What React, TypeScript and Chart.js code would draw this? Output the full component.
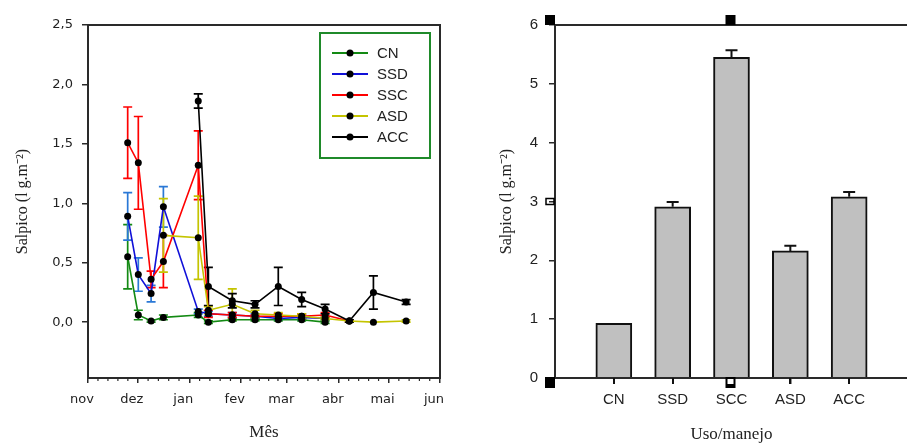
import React, { useEffect, useRef } from 'react';
import { Chart, registerables } from 'chart.js';

Chart.register(...registerables);

// ---------- Left chart data (days since 1 Nov) ----------
const monthLabels = ['nov', 'dez', 'jan', 'fev', 'mar', 'abr', 'mai', 'jun'];
const monthStartDays = [0, 30, 61, 92, 120, 151, 181, 212];
const sampleDays = [23.9, 30.3, 38, 45.4, 66.4, 72.5, 86.9, 100.6, 114.6, 128.7, 142.8, 157.4, 171.9, 191.6];

const cnValues = [0.55, 0.06, 0.01, 0.04, 0.06, 0.0, 0.02, 0.02, 0.02, 0.02, 0.0];
const cnErrors = [0.27, 0.04, 0.01, 0.02, 0.02, 0.01, 0.01, 0.01, 0.01, 0.01, 0.01];
const ssdValues = [0.89, 0.4, 0.24, 0.97, 0.09, 0.07, 0.06, 0.05, 0.03, 0.04, 0.03];
const ssdErrors = [0.2, 0.14, 0.07, 0.17, 0.02, 0.02, 0.02, 0.02, 0.01, 0.02, 0.01];
const sscValues = [1.51, 1.34, 0.36, 0.51, 1.32, 0.07, 0.06, 0.05, 0.05, 0.05, 0.06, 0.01];
const sscErrors = [0.3, 0.39, 0.07, 0.22, 0.29, 0.03, 0.02, 0.01, 0.02, 0.02, 0.02, 0.01];
const asdStart = 3;
const asdValues = [0.73, 0.71, 0.1, 0.15, 0.07, 0.06, 0.05, 0.03, 0.01, 0.0, 0.01];
const asdErrors = [0.31, 0.35, 0.03, 0.13, 0.03, 0.02, 0.02, 0.01, 0.01, 0.0, 0.01];
const accStart = 4;
const accValues = [1.86, 0.3, 0.18, 0.15, 0.3, 0.19, 0.11, 0.01, 0.25, 0.17];
const accErrors = [0.06, 0.16, 0.06, 0.03, 0.16, 0.06, 0.04, 0.01, 0.14, 0.02];

const leftYTicks = [0, 0.5, 1, 1.5, 2, 2.5];

// ---------- Right chart data ----------
const categories = ['CN', 'SSD', 'SCC', 'ASD', 'ACC'];
const barValues = [0.93, 2.91, 5.45, 2.16, 3.08];
const barErrors = [0, 0.08, 0.12, 0.09, 0.08];
const rightYTicks = [0, 1, 2, 3, 4, 5, 6];

const AXIS = '#2a2a2a';
const yTitle = 'Salpico (l g.m\u207B\u00B2)';

function pts(values: number[], start: number) {
  return values.map((v, i) => ({ x: sampleDays[start + i], y: v }));
}

const errorBarPlugin = {
  id: 'errorBars',
  beforeDatasetsDraw(chart: any) {
    const { ctx } = chart;
    const x = chart.scales.x;
    const y = chart.scales.y;
    chart.data.datasets.forEach((ds: any) => {
      if (!ds.errors) return;
      ctx.save();
      ctx.strokeStyle = ds.errorColor;
      ctx.lineWidth = 1.7;
      ds.data.forEach((p: any, i: number) => {
        const e = ds.errors[i];
        if (!e) return;
        const px = x.getPixelForValue(p.x);
        const top = y.getPixelForValue(p.y + e);
        const bot = y.getPixelForValue(p.y - e);
        ctx.beginPath();
        ctx.moveTo(px, top);
        ctx.lineTo(px, bot);
        ctx.moveTo(px - 4.5, top);
        ctx.lineTo(px + 4.5, top);
        ctx.moveTo(px - 4.5, bot);
        ctx.lineTo(px + 4.5, bot);
        ctx.stroke();
      });
      ctx.restore();
    });
  },
};

const leftDecorPlugin = {
  id: 'leftDecor',
  afterDraw(chart: any) {
    const { ctx, chartArea } = chart;
    const x = chart.scales.x;
    ctx.save();
    // frame
    ctx.strokeStyle = AXIS;
    ctx.lineWidth = 2;
    ctx.strokeRect(chartArea.left, chartArea.top, chartArea.right - chartArea.left, chartArea.bottom - chartArea.top);
    // minor ticks
    ctx.lineWidth = 1.2;
    for (let m = 0; m < monthStartDays.length - 1; m++) {
      const a = monthStartDays[m];
      const b = monthStartDays[m + 1];
      for (let k = 1; k < 5; k++) {
        const px = x.getPixelForValue(a + ((b - a) * k) / 5);
        ctx.beginPath();
        ctx.moveTo(px, chartArea.bottom);
        ctx.lineTo(px, chartArea.bottom + 3);
        ctx.stroke();
      }
    }
    // legend box
    const bx = chartArea.right - 120;
    const by = chartArea.top + 8;
    ctx.strokeStyle = '#1f8a2a';
    ctx.lineWidth = 2;
    ctx.strokeRect(bx, by, 110, 125);
    ctx.font = '15px "Liberation Sans", Arial, sans-serif';
    ctx.textBaseline = 'middle';
    ctx.textAlign = 'left';
    chart.data.datasets.forEach((ds: any, i: number) => {
      const ly = by + 20 + i * 21;
      ctx.strokeStyle = ds.borderColor;
      ctx.lineWidth = 1.8;
      ctx.beginPath();
      ctx.moveTo(bx + 12, ly);
      ctx.lineTo(bx + 48, ly);
      ctx.stroke();
      ctx.fillStyle = '#000';
      ctx.beginPath();
      ctx.arc(bx + 30, ly, 3.5, 0, Math.PI * 2);
      ctx.fill();
      ctx.fillStyle = '#222';
      ctx.fillText(ds.label, bx + 57, ly + 1);
    });
    ctx.restore();
  },
};

const rightDecorPlugin = {
  id: 'rightDecor',
  afterDatasetsDraw(chart: any) {
    const { ctx } = chart;
    const x = chart.scales.x;
    const y = chart.scales.y;
    ctx.save();
    ctx.strokeStyle = '#111';
    ctx.lineWidth = 2;
    barValues.forEach((v, i) => {
      const e = barErrors[i];
      if (!e) return;
      const px = x.getPixelForValue(i);
      const top = y.getPixelForValue(v + e);
      const base = y.getPixelForValue(v);
      ctx.beginPath();
      ctx.moveTo(px, base);
      ctx.lineTo(px, top);
      ctx.moveTo(px - 6, top);
      ctx.lineTo(px + 6, top);
      ctx.stroke();
    });
    ctx.restore();
  },
  afterDraw(chart: any) {
    const { ctx, chartArea } = chart;
    const x = chart.scales.x;
    const y = chart.scales.y;
    ctx.save();
    ctx.strokeStyle = AXIS;
    ctx.lineWidth = 2;
    ctx.strokeRect(chartArea.left, chartArea.top, chartArea.right - chartArea.left, chartArea.bottom - chartArea.top);
    // category ticks
    ctx.lineWidth = 2;
    ctx.strokeStyle = '#111';
    categories.forEach((_, i) => {
      const px = Math.round(x.getPixelForValue(i));
      ctx.beginPath();
      ctx.moveTo(px, chartArea.bottom);
      ctx.lineTo(px, chartArea.bottom + 6);
      ctx.stroke();
    });
    // selection handles
    const mid = x.getPixelForValue(2);
    ctx.fillStyle = '#000';
    ctx.fillRect(chartArea.left - 10, chartArea.top - 10, 10, 10);
    ctx.fillRect(mid - 6, chartArea.top - 10, 10, 10);
    ctx.fillRect(chartArea.left - 10, chartArea.bottom - 1, 10, 11);
    ctx.fillRect(mid - 6, chartArea.bottom - 1, 10, 11);
    ctx.fillStyle = '#fff';
    ctx.fillRect(mid - 4, chartArea.bottom + 1, 6, 5);
    ctx.lineWidth = 1.5;
    ctx.strokeStyle = '#000';
    const y3 = y.getPixelForValue(3);
    ctx.strokeRect(chartArea.left - 9, y3 - 3, 8, 6);
    ctx.restore();
  },
};

function LeftChart() {
  const ref = useRef<HTMLCanvasElement>(null);
  useEffect(() => {
    if (!ref.current) return;
    const mk = (label: string, color: string, errColor: string, data: any[], errors: number[], order: number) => ({
      label,
      data,
      errors,
      errorColor: errColor,
      borderColor: color,
      backgroundColor: color,
      borderWidth: 1.6,
      pointRadius: 3.5,
      pointBackgroundColor: '#000',
      pointBorderColor: '#000',
      pointBorderWidth: 0,
      tension: 0,
      order,
    });
    const chart = new Chart(ref.current, {
      type: 'line',
      data: {
        datasets: [
          mk('CN', '#138a13', '#138a13', pts(cnValues, 0), cnErrors, 4),
          mk('SSD', '#1010d8', '#2a78d6', pts(ssdValues, 0), ssdErrors, 3),
          mk('SSC', '#ff0000', '#ff0000', pts(sscValues, 0), sscErrors, 2),
          mk('ASD', '#c4c400', '#c4c400', pts(asdValues, asdStart), asdErrors, 1),
          mk('ACC', '#000000', '#000000', pts(accValues, accStart), accErrors, 0),
        ] as any,
      },
      options: {
        responsive: false,
        animation: false,
        events: [],
        layout: { padding: { left: 0, top: 25, right: 20, bottom: 0 } },
        plugins: { legend: { display: false }, tooltip: { enabled: false } },
        scales: {
          x: {
            type: 'linear',
            min: 0,
            max: 212,
            afterBuildTicks: (s: any) => {
              s.ticks = monthStartDays.map((v) => ({ value: v }));
            },
            afterFit: (s: any) => {
              s.height = 65;
            },
            grid: { drawOnChartArea: false, drawTicks: true, tickLength: 5, color: AXIS, lineWidth: 1.5 },
            border: { display: true, color: AXIS, width: 2 },
            ticks: {
              autoSkip: false,
              maxRotation: 0,
              padding: 9,
              labelOffset: -6,
              color: '#222',
              font: { family: '"DejaVu Sans", sans-serif', size: 13 },
              callback: (v: any) => {
                const i = monthStartDays.indexOf(Number(v));
                return i >= 0 ? monthLabels[i] : '';
              },
            },
            title: {
              display: true,
              text: 'Mês',
              color: '#222',
              font: { family: '"Liberation Serif", serif', size: 17, lineHeight: 1 },
              padding: { top: 0, bottom: 1.5 },
            },
          },
          y: {
            type: 'linear',
            min: -0.47,
            max: 2.5,
            afterBuildTicks: (s: any) => {
              s.ticks = leftYTicks.map((v) => ({ value: v }));
            },
            afterFit: (s: any) => {
              s.width = 88;
            },
            grid: { drawOnChartArea: false, drawTicks: true, tickLength: 6, color: AXIS, lineWidth: 1.5 },
            border: { display: true, color: AXIS, width: 2 },
            ticks: {
              padding: 9,
              color: '#222',
              font: { family: '"DejaVu Sans", sans-serif', size: 13 },
              callback: (v: any) => Number(v).toFixed(1).replace('.', ','),
            },
            title: {
              display: true,
              text: yTitle,
              color: '#222',
              font: { family: '"Liberation Serif", serif', size: 16, lineHeight: 1.2 },
              padding: { top: 13, bottom: 0 },
            },
          },
        },
      } as any,
      plugins: [errorBarPlugin, leftDecorPlugin],
    });
    return () => chart.destroy();
  }, []);
  return <canvas ref={ref} width={460} height={443} style={{ position: 'absolute', left: 0, top: 0 }} />;
}

function RightChart() {
  const ref = useRef<HTMLCanvasElement>(null);
  useEffect(() => {
    if (!ref.current) return;
    const chart = new Chart(ref.current, {
      type: 'bar',
      data: {
        datasets: [
          {
            label: 'Salpico',
            data: barValues.map((v, i) => ({ x: i, y: v })),
            backgroundColor: '#c0c0c0',
            borderColor: '#111',
            borderWidth: 2,
            barThickness: 36,
          },
        ] as any,
      },
      options: {
        responsive: false,
        animation: false,
        events: [],
        layout: { padding: { left: 0, top: 25, right: 4, bottom: 0 } },
        plugins: { legend: { display: false }, tooltip: { enabled: false } },
        scales: {
          x: {
            type: 'linear',
            offset: false,
            min: -1,
            max: 5,
            afterBuildTicks: (s: any) => {
              s.ticks = categories.map((_, i) => ({ value: i }));
            },
            afterFit: (s: any) => {
              s.height = 65;
            },
            grid: { offset: false, drawOnChartArea: false, drawTicks: true, tickLength: 6, color: AXIS, lineWidth: 1.5 },
            border: { display: true, color: AXIS, width: 2 },
            ticks: {
              autoSkip: false,
              maxRotation: 0,
              padding: 7,
              color: '#222',
              font: { family: '"Liberation Sans", Arial, sans-serif', size: 15 },
              callback: (v: any) => categories[Number(v)] ?? '',
            },
            title: {
              display: true,
              text: 'Uso/manejo',
              color: '#222',
              font: { family: '"Liberation Serif", serif', size: 17, lineHeight: 1 },
              padding: { top: 0, bottom: 0 },
            },
          },
          y: {
            type: 'linear',
            min: 0,
            max: 6,
            afterBuildTicks: (s: any) => {
              s.ticks = rightYTicks.map((v) => ({ value: v }));
            },
            afterFit: (s: any) => {
              s.width = 95;
            },
            grid: { drawOnChartArea: false, drawTicks: true, tickLength: 6, color: AXIS, lineWidth: 1.5 },
            border: { display: true, color: AXIS, width: 2 },
            ticks: {
              padding: 11,
              color: '#222',
              font: { family: '"Liberation Sans", Arial, sans-serif', size: 15 },
            },
            title: {
              display: true,
              text: yTitle,
              color: '#222',
              font: { family: '"Liberation Serif", serif', size: 16, lineHeight: 1.2 },
              padding: { top: 37, bottom: 0 },
            },
          },
        },
      } as any,
      plugins: [rightDecorPlugin],
    });
    return () => chart.destroy();
  }, []);
  return <canvas ref={ref} width={452} height={443} style={{ position: 'absolute', left: 460, top: 0 }} />;
}

export default function App() {
  return (
    <div
      style={{
        position: 'fixed',
        left: 0,
        top: 0,
        width: 907,
        height: 443,
        overflow: 'hidden',
        background: '#fff',
      }}
    >
      <LeftChart />
      <RightChart />
    </div>
  );
}
